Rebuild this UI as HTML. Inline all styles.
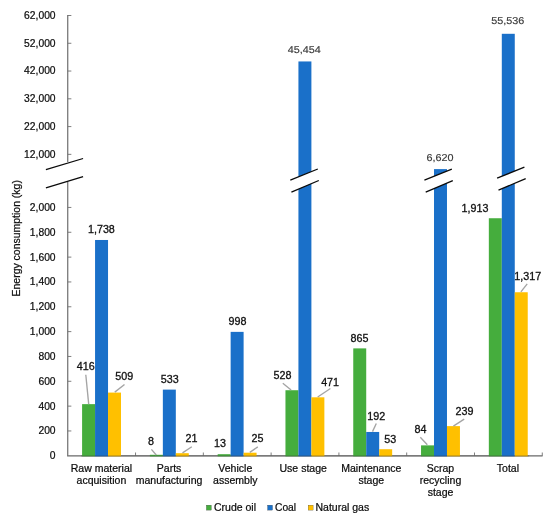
<!DOCTYPE html>
<html><head><meta charset="utf-8"><title>Energy consumption</title>
<style>html,body{margin:0;padding:0;background:#fff}body{width:550px;height:524px;overflow:hidden;font-family:"Liberation Sans",sans-serif}</style>
</head><body>
<svg width="550" height="524" viewBox="0 0 550 524" style="display:block;will-change:transform;transform:translateZ(0)">
<rect width="550" height="524" fill="#fff"/>
<g stroke="#686868" stroke-width="1.15" fill="none">
<path d="M67.75 14.9V162 M67.75 181.5V455.8"/>
<path d="M67.1 455.8H542.6"/>
</g>
<g stroke="#707070" stroke-width="0.9" fill="none">
<path d="M67.75 15.50h3.6"/>
<path d="M67.75 43.27h3.6"/>
<path d="M67.75 71.04h3.6"/>
<path d="M67.75 98.81h3.6"/>
<path d="M67.75 126.58h3.6"/>
<path d="M67.75 154.35h3.6"/>
<path d="M67.75 430.96h3.6"/>
<path d="M67.75 406.13h3.6"/>
<path d="M67.75 381.29h3.6"/>
<path d="M67.75 356.46h3.6"/>
<path d="M67.75 331.62h3.6"/>
<path d="M67.75 306.78h3.6"/>
<path d="M67.75 281.95h3.6"/>
<path d="M67.75 257.11h3.6"/>
<path d="M67.75 232.28h3.6"/>
<path d="M67.75 207.44h3.6"/>
<path d="M135.54 455.8v-3.3"/>
<path d="M203.33 455.8v-3.3"/>
<path d="M271.12 455.8v-3.3"/>
<path d="M338.91 455.8v-3.3"/>
<path d="M406.70 455.8v-3.3"/>
<path d="M474.49 455.8v-3.3"/>
<path d="M542.28 455.8v-3.3"/>
</g>
<rect x="82.09" y="404.14" width="12.97" height="52.21" fill="#45ad3d"/>
<rect x="95.06" y="239.98" width="12.97" height="216.37" fill="#1a70c9"/>
<rect x="108.03" y="392.59" width="12.97" height="63.76" fill="#ffc000"/>
<rect x="149.88" y="454.81" width="12.97" height="1.54" fill="#45ad3d"/>
<rect x="162.85" y="389.61" width="12.97" height="66.74" fill="#1a70c9"/>
<rect x="175.82" y="453.19" width="12.97" height="3.16" fill="#ffc000"/>
<rect x="217.67" y="454.19" width="12.97" height="2.16" fill="#45ad3d"/>
<rect x="230.64" y="331.87" width="12.97" height="124.48" fill="#1a70c9"/>
<rect x="243.61" y="452.70" width="12.97" height="3.65" fill="#ffc000"/>
<rect x="285.46" y="390.23" width="12.97" height="66.12" fill="#45ad3d"/>
<rect x="298.43" y="61.45" width="12.97" height="394.90" fill="#1a70c9"/>
<rect x="311.40" y="397.31" width="12.97" height="59.04" fill="#ffc000"/>
<rect x="353.25" y="348.38" width="12.97" height="107.97" fill="#45ad3d"/>
<rect x="366.22" y="431.96" width="12.97" height="24.39" fill="#1a70c9"/>
<rect x="379.19" y="449.22" width="12.97" height="7.13" fill="#ffc000"/>
<rect x="421.04" y="445.37" width="12.97" height="10.98" fill="#45ad3d"/>
<rect x="434.01" y="169.10" width="12.97" height="287.25" fill="#1a70c9"/>
<rect x="446.98" y="426.12" width="12.97" height="30.23" fill="#ffc000"/>
<rect x="488.83" y="218.24" width="12.97" height="238.11" fill="#45ad3d"/>
<rect x="501.80" y="33.80" width="12.97" height="422.55" fill="#1a70c9"/>
<rect x="514.77" y="292.25" width="12.97" height="164.10" fill="#ffc000"/>
<path d="M81 455.8H529" stroke="#383838" stroke-opacity="0.3" stroke-width="1.15" fill="none"/>
<path d="M45.9 169.6L83.1 158.5L83.1 176.7L45.9 187.9Z" fill="#fff"/>
<path d="M45.9 169.6L83.1 158.5M45.9 187.9L83.1 176.7" stroke="#0a0a0a" stroke-width="1.3" fill="none"/>
<path d="M290.3 180.1L317.8 169.0L318.8 180.5L291.4 192.1Z" fill="#fff"/>
<path d="M290.3 180.1L317.8 169.0M291.4 192.1L318.8 180.5" stroke="#0a0a0a" stroke-width="1.3" fill="none"/>
<path d="M424.4 180.1L451.8 169.1L452.8 180.7L425.7 192.1Z" fill="#fff"/>
<path d="M424.4 180.1L451.8 169.1M425.7 192.1L452.8 180.7" stroke="#0a0a0a" stroke-width="1.3" fill="none"/>
<path d="M497.1 178.1L524.4 167.2L525.7 178.6L498.5 190.2Z" fill="#fff"/>
<path d="M497.1 178.1L524.4 167.2M498.5 190.2L525.7 178.6" stroke="#0a0a0a" stroke-width="1.3" fill="none"/>
<g stroke="#a4a4a4" stroke-width="1.35" fill="none">
<path d="M85.8 374.7L88.7 404.1"/>
<path d="M124.5 384.5L114.8 392.1"/>
<path d="M151.4 449.4L156.3 455.0"/>
<path d="M191.8 446.7L182.5 452.9"/>
<path d="M257.8 446.9L249.8 452.4"/>
<path d="M282.8 383.2L291.1 390.0"/>
<path d="M330.4 388.5L317.7 397.0"/>
<path d="M376.3 423.5L372.5 431.6"/>
<path d="M420.3 437.3L427.3 444.8"/>
<path d="M464.2 419.1L453.4 426.1"/>
<path d="M527.2 283.8L520.9 291.8"/>
</g>
<g font-family="Liberation Sans, sans-serif" font-size="10.3" fill="#0c0c0c" stroke="#0c0c0c" stroke-width="0.22">
<g text-anchor="end">
<text x="55.6" y="18.90">62,000</text>
<text x="55.6" y="46.67">52,000</text>
<text x="55.6" y="74.44">42,000</text>
<text x="55.6" y="102.21">32,000</text>
<text x="55.6" y="129.98">22,000</text>
<text x="55.6" y="157.75">12,000</text>
<text x="55.6" y="459.20">0</text>
<text x="55.6" y="434.36">200</text>
<text x="55.6" y="409.53">400</text>
<text x="55.6" y="384.69">600</text>
<text x="55.6" y="359.86">800</text>
<text x="55.6" y="335.02">1,000</text>
<text x="55.6" y="310.18">1,200</text>
<text x="55.6" y="285.35">1,400</text>
<text x="55.6" y="260.51">1,600</text>
<text x="55.6" y="235.68">1,800</text>
<text x="55.6" y="210.84">2,000</text>
</g>
<text transform="translate(20.0 238.3) rotate(-90)" text-anchor="middle" font-size="10.47">Energy consumption (kg)</text>
<g text-anchor="middle" font-size="10.52">
<text x="101.40" y="471.80">Raw material</text>
<text x="101.40" y="483.80">acquisition</text>
<text x="169.10" y="471.80">Parts</text>
<text x="169.10" y="483.80">manufacturing</text>
<text x="235.30" y="471.80">Vehicle</text>
<text x="235.30" y="483.80">assembly</text>
<text x="303.20" y="471.80">Use stage</text>
<text x="371.30" y="471.80">Maintenance</text>
<text x="371.30" y="483.80">stage</text>
<text x="440.50" y="471.80">Scrap</text>
<text x="440.50" y="483.80">recycling</text>
<text x="440.50" y="495.80">stage</text>
<text x="507.90" y="471.80">Total</text>
</g>
<rect x="206.4" y="505.2" width="4.9" height="4.9" fill="#45ad3d"/><text x="214.0" y="511.1" font-size="10.5">Crude oil</text>
<rect x="267.6" y="505.2" width="4.9" height="4.9" fill="#1a70c9"/><text x="275.0" y="511.1" font-size="10.25">Coal</text>
<rect x="308.2" y="505.2" width="4.9" height="4.9" fill="#ffc000"/><text x="315.5" y="511.1" font-size="10.5">Natural gas</text>
</g>
<g font-family="Liberation Sans, sans-serif" font-size="10.75" text-anchor="middle">
<text x="85.7" y="370.05" fill="#111" stroke="#111" stroke-width="0.3">416</text>
<text x="101.4" y="232.95" fill="#111" stroke="#111" stroke-width="0.3">1,738</text>
<text x="124.3" y="380.05" fill="#111" stroke="#111" stroke-width="0.3">509</text>
<text x="150.95" y="445.05" fill="#111" stroke="#111" stroke-width="0.3">8</text>
<text x="169.7" y="383.05" fill="#111" stroke="#111" stroke-width="0.3">533</text>
<text x="191.5" y="442.25" fill="#111" stroke="#111" stroke-width="0.3">21</text>
<text x="219.9" y="446.65" fill="#111" stroke="#111" stroke-width="0.3">13</text>
<text x="237.5" y="324.65" fill="#111" stroke="#111" stroke-width="0.3">998</text>
<text x="257.4" y="442.45" fill="#111" stroke="#111" stroke-width="0.3">25</text>
<text x="282.5" y="378.95" fill="#111" stroke="#111" stroke-width="0.3">528</text>
<text transform="translate(304.2 53.45) scale(1.08 1)" text-rendering="geometricPrecision" font-size="10.0" fill="#383838" stroke="#383838" stroke-width="0.16">45,454</text>
<text x="330.1" y="385.55" fill="#111" stroke="#111" stroke-width="0.3">471</text>
<text x="359.4" y="341.75" fill="#111" stroke="#111" stroke-width="0.3">865</text>
<text x="376.3" y="420.05" fill="#111" stroke="#111" stroke-width="0.3">192</text>
<text x="390.3" y="443.15" fill="#111" stroke="#111" stroke-width="0.3">53</text>
<text x="420.4" y="433.15" fill="#111" stroke="#111" stroke-width="0.3">84</text>
<text transform="translate(440.1 161.35) scale(1.08 1)" text-rendering="geometricPrecision" font-size="10.0" fill="#383838" stroke="#383838" stroke-width="0.16">6,620</text>
<text x="464.5" y="414.95" fill="#111" stroke="#111" stroke-width="0.3">239</text>
<text x="475.0" y="211.85" fill="#111" stroke="#111" stroke-width="0.3">1,913</text>
<text transform="translate(507.7 24.25) scale(1.08 1)" text-rendering="geometricPrecision" font-size="10.0" fill="#383838" stroke="#383838" stroke-width="0.16">55,536</text>
<text x="527.8" y="280.05" fill="#111" stroke="#111" stroke-width="0.3">1,317</text>
</g>
</svg>
</body></html>
